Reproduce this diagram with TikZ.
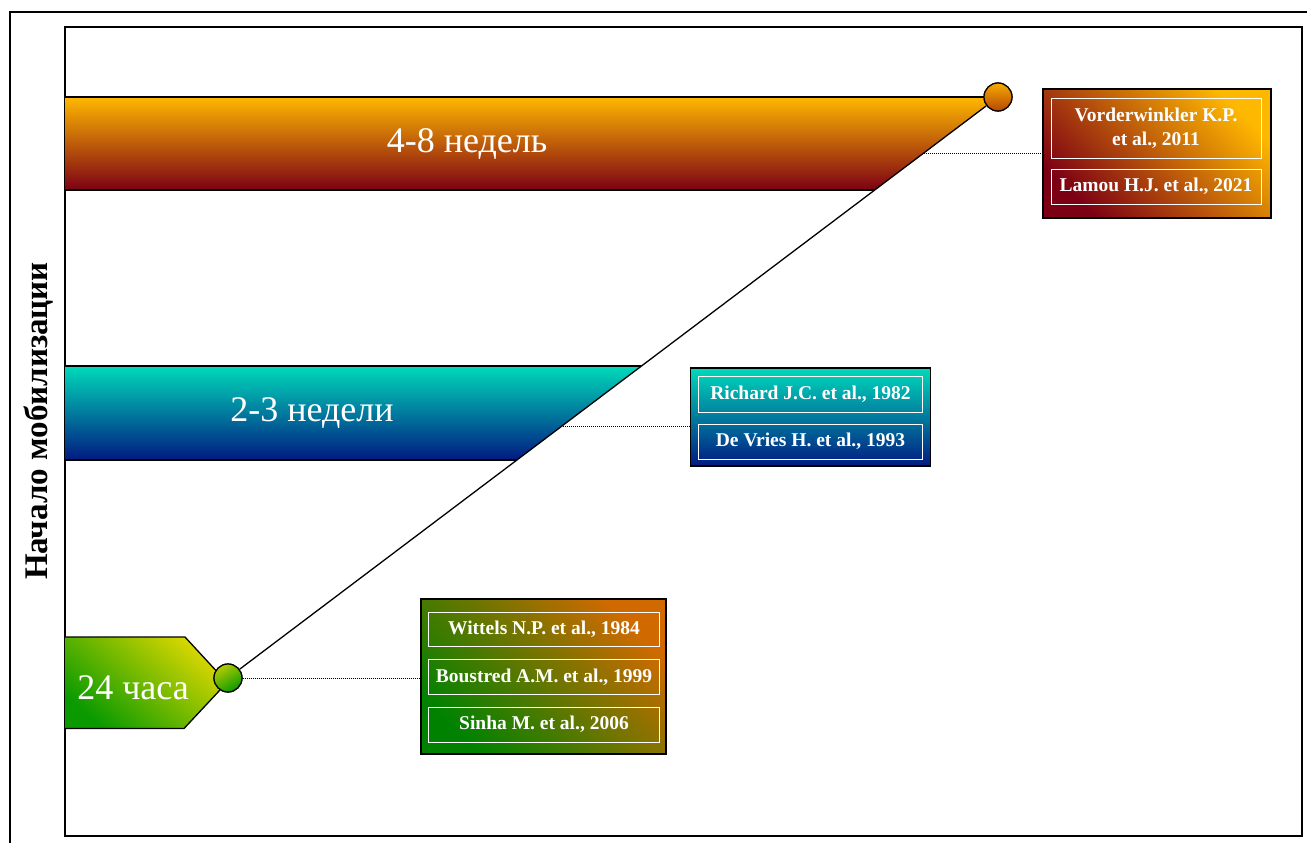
\documentclass[tikz,border=0pt]{standalone}
\usepackage{fontspec}
\setmainfont{Liberation Serif}
\definecolor{orTop}{HTML}{FFB800}
\definecolor{orMid}{HTML}{C45A00}
\definecolor{orBot}{HTML}{7C0014}
\definecolor{tqTop}{HTML}{00DABA}
\definecolor{tqMid}{HTML}{0680A0}
\definecolor{tqBot}{HTML}{021A82}
\definecolor{gnTop}{HTML}{DDD800}
\definecolor{gnMid}{HTML}{78BE00}
\definecolor{gnBot}{HTML}{0A9A00}
\definecolor{olTop}{HTML}{D06A00}
\definecolor{olMid}{HTML}{5E7A00}
\definecolor{olBot}{HTML}{008200}
\begin{document}
\begin{tikzpicture}[x=1pt,y=-1pt,
  frame/.style={draw=black, line width=1.6pt},
  edge/.style={draw=black, line width=1.3pt},
  barlabel/.style={text=white, font=\fontsize{36}{40}\selectfont, inner sep=0pt},
  refbox/.style={draw=black, line width=1.6pt, inner sep=0pt},
  ref/.style={draw=white, line width=0.8pt, text=white, align=center, inner sep=0pt, font=\bfseries\fontsize{19.5}{24}\selectfont},
  leader/.style={draw=black, line width=0.9pt, dash pattern=on 1pt off 1pt},
  dot/.style={circle, draw=black, line width=1.2pt, minimum size=28pt, inner sep=0pt},
]
\useasboundingbox (0,0) rectangle (1307,843);
\fill[white] (0,0) rectangle (1307,843);
\draw[frame] (10,843) -- (10,12) -- (1307,12);
\draw[frame] (65,27) rectangle (1302,836);

% bars
\shade[top color=orTop, middle color=orMid, bottom color=orBot] (65,97) -- (998,97) -- (875,190) -- (65,190) -- cycle;
\draw[edge] (65,97) -- (998,97) (65,190) -- (875,190);
\shade[top color=tqTop, middle color=tqMid, bottom color=tqBot] (65,366) -- (641,366) -- (517,460) -- (65,460) -- cycle;
\draw[edge] (65,366) -- (641,366) (65,460) -- (517,460);
\shade[top color=gnTop, middle color=gnMid, bottom color=gnBot, shading angle=-40] (65,637) -- (185,637) -- (227,682.5) -- (184,728.5) -- (65,728.5) -- cycle;
\draw[edge] (65,637) -- (185,637) -- (227,682.5) -- (184,728.5) -- (65,728.5);

\node[barlabel] (l48) at (467,144) {4-8 недель};
\node[barlabel] (l23) at (312,413) {2-3 недели};
\node[barlabel] (l24) at (133,688) {24 часа};

\node[rotate=90, font=\bfseries\fontsize{33}{36}\selectfont] (yl) at (39,421) {Начало мобилизации};

% circles and diagonal
\node[dot, top color=gnTop!80!gnBot, bottom color=gnBot, shading angle=30] (c1) at (228,678) {};
\node[dot, top color=orTop!85!orMid, bottom color=orMid!80!orBot] (c2) at (998,97) {};
\draw[edge] (c1) -- (c2);
\node[dot, top color=gnTop!80!gnBot, bottom color=gnBot, shading angle=30] at (c1) {};
\node[dot, top color=orTop!85!orMid, bottom color=orMid!80!orBot] at (c2) {};

% reference boxes
\node[refbox, top color=orTop, middle color=orMid, bottom color=orBot, shading angle=-45, minimum width=228pt, minimum height=129pt] (bA) at (1157,153.5) {};
\node[ref, minimum width=210pt, minimum height=60pt] (rA1) at (1156,128) {Vorderwinkler K.P.\\et al., 2011};
\node[ref, minimum width=210pt, minimum height=35pt] (rA2) at (1156,186.5) {Lamou H.J. et al., 2021};

\node[refbox, top color=tqTop, middle color=tqMid, bottom color=tqBot, minimum width=240pt, minimum height=98pt] (bB) at (810.5,417) {};
\node[ref, minimum width=224pt, minimum height=36pt] (rB1) at (810.5,394.5) {Richard J.C. et al., 1982};
\node[ref, minimum width=224pt, minimum height=35pt] (rB2) at (810.5,441.5) {De Vries H. et al., 1993};

\node[refbox, top color=olTop, middle color=olMid, bottom color=olBot, shading angle=-45, minimum width=245pt, minimum height=155pt] (bC) at (543.5,676.5) {};
\node[ref, minimum width=231pt, minimum height=34pt] (rC1) at (544,629) {Wittels N.P. et al., 1984};
\node[ref, minimum width=231pt, minimum height=35pt] (rC2) at (544,677) {Boustred A.M. et al., 1999};
\node[ref, minimum width=231pt, minimum height=35pt] (rC3) at (544,724.5) {Sinha M. et al., 2006};

% leaders
\coordinate (dA) at (924,153);
\coordinate (dB) at (563,426);
\draw[leader] (dA) -- (dA -| bA.west);
\draw[leader] (dB) -- (dB -| bB.west);
\draw[leader] (c1.east) -- (c1.east -| bC.west);
\end{tikzpicture}
\end{document}
